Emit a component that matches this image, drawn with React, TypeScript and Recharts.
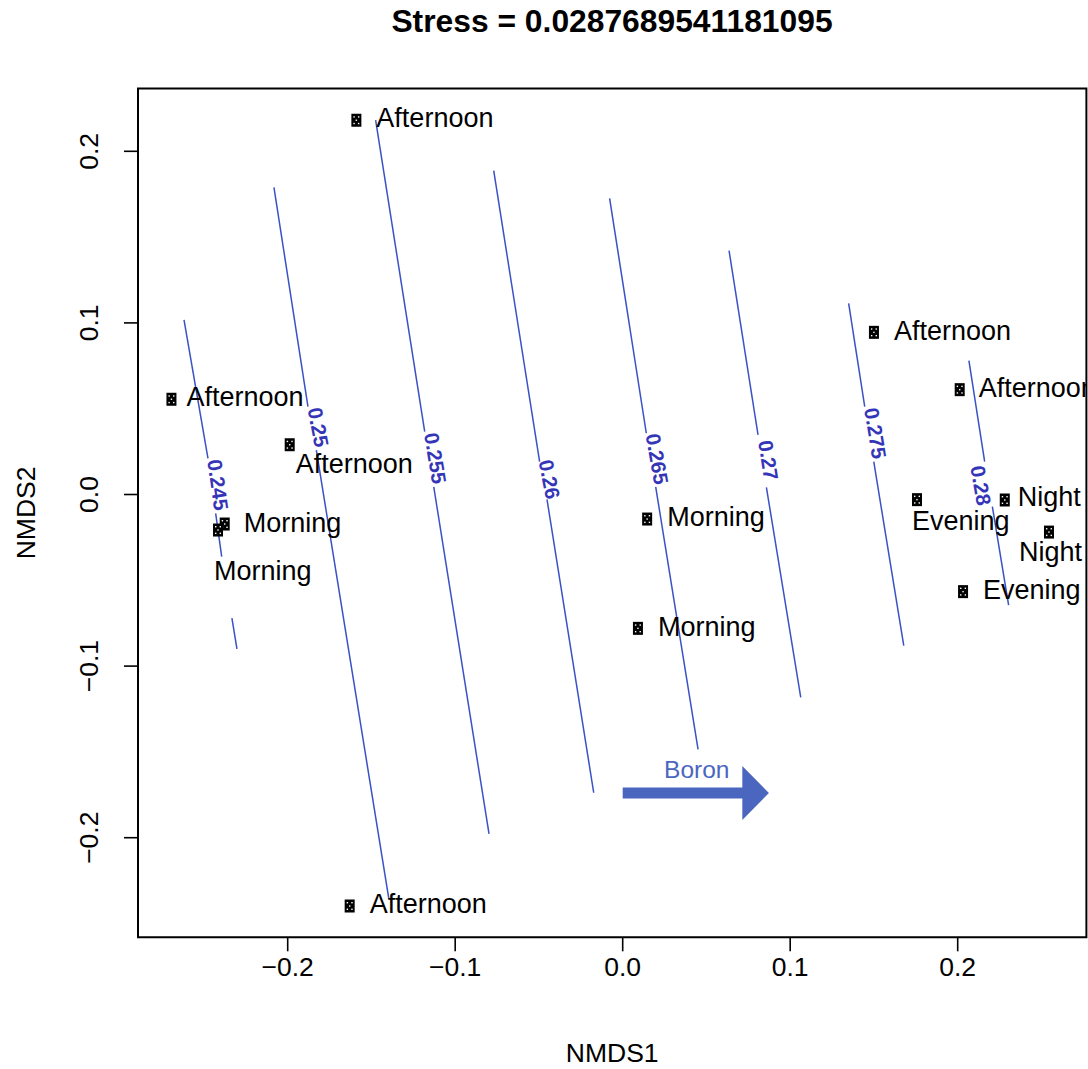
import React from "react";
import {
  ScatterChart,
  Scatter,
  XAxis,
  YAxis,
  ReferenceLine,
  ReferenceArea,
} from "recharts";

const FONT = '"Liberation Sans", Arial, Helvetica, sans-serif';

// axis ranges (R pads the data range by 4%)
const X_DOMAIN = [-0.28937, 0.27684];
const Y_DOMAIN = [-0.25804, 0.2366];
const X_TICKS = [-0.2, -0.1, 0, 0.1, 0.2];
const Y_TICKS = [-0.2, -0.1, 0, 0.1, 0.2];

// site scores
const SITE_LABELS = [
  "Afternoon", "Afternoon", "Afternoon", "Morning", "Morning", "Morning", "Morning",
  "Afternoon", "Afternoon", "Afternoon", "Evening", "Night", "Night", "Evening",
];
const NMDS1 = [
  -0.159, -0.2694, -0.1988, -0.2376, -0.2416, 0.0146, 0.0091,
  -0.163, 0.15, 0.2012, 0.1757, 0.2281, 0.2545, 0.2032,
];
const NMDS2 = [
  0.2181, 0.0555, 0.029, -0.0172, -0.0207, -0.0143, -0.078,
  -0.2398, 0.0945, 0.0611, -0.003, -0.0032, -0.0219, -0.0566,
];

// ordisurf contour levels and their traces; the label sits in the gap
// between the first and the second piece
const CONTOUR_LEVELS = ["0.245", "0.25", "0.255", "0.26", "0.265", "0.27", "0.275", "0.28"];
const CONTOUR_PIECES: [number, number][][][] = [
  [
    [[-0.2619, 0.1017], [-0.2476, 0.0211]],
    [[-0.243, -0.011], [-0.2394, -0.0362]],
    [[-0.2333, -0.0721], [-0.2303, -0.09]],
  ],
  [
    [[-0.2082, 0.179], [-0.1879, 0.0512]],
    [[-0.1829, 0.0259], [-0.1397, -0.2351]],
  ],
  [
    [[-0.1475, 0.2182], [-0.1182, 0.0366]],
    [[-0.1128, 0.0045], [-0.0798, -0.1978]],
  ],
  [
    [[-0.077, 0.1887], [-0.0496, 0.0191]],
    [[-0.0452, -0.0028], [-0.0173, -0.1738]],
  ],
  [
    [[-0.0078, 0.1726], [0.0141, 0.0357]],
    [[0.0197, 0.0045], [0.045, -0.1485]],
  ],
  [
    [[0.0635, 0.1421], [0.0808, 0.0347]],
    [[0.0858, 0.0042], [0.1063, -0.1182]],
  ],
  [
    [[0.1349, 0.1114], [0.1445, 0.0512]],
    [[0.1499, 0.0191], [0.1678, -0.0881]],
  ],
  [
    [[0.2067, 0.078], [0.2161, 0.0191]],
    [[0.2207, -0.0071], [0.2304, -0.0644]],
  ],
];

// envfit vector for Boron
const BORON_FROM = [0, -0.174];
const BORON_TO = [0.0873, -0.174];

// where each site's text goes, px from the point (start x, cap-centre y)
const LABEL_OFFSETS = [
  [20, -2.5], [15, -2.5], [6, 18.3], [19, -2], [-4, 40], [20, -2.5], [20, -2.5],
  [20, -2.5], [20, -2.5], [19, -2.5], [-5, 20.3], [13, -4], [-30, 19.7], [20, -2],
];
// baseline shift of the contour labels across the line, px
const LEVEL_BASELINE = [1, 1, 1, 1, 1, 1, 1, 15];

const LINE_BLUE = "#3a52c4";
const LABEL_BLUE = "#3535b8";
const ARROW_BLUE = "#4b66bf";

const fmt = (v: number) =>
  v === 0 ? "0.0" : (v < 0 ? "\u2212" : "") + Math.abs(v).toFixed(1);

const sites = NMDS1.map((x, i) => ({ x, y: NMDS2[i], site: SITE_LABELS[i], idx: i }));

function SiteMark(props: any) {
  const { cx, cy, payload } = props;
  const [dx, dy] = LABEL_OFFSETS[payload.idx];
  return (
    <g>
      <rect x={cx - 5} y={cy - 6.5} width={10} height={13} fill="#000" />
      <rect x={cx - 3} y={cy - 4} width={1.4} height={1.4} fill="#fff" />
      <rect x={cx + 1.6} y={cy - 4} width={1.4} height={1.4} fill="#fff" />
      <rect x={cx - 0.7} y={cy - 0.7} width={1.4} height={1.4} fill="#fff" />
      <rect x={cx - 3} y={cy + 2.6} width={1.4} height={1.4} fill="#fff" />
      <rect x={cx + 1.6} y={cy + 2.6} width={1.4} height={1.4} fill="#fff" />
      <text x={cx + dx} y={cy + dy + 9.7} fontSize={27} fontFamily={FONT} fill="#000">
        {payload.site}
      </text>
    </g>
  );
}

function ContourLabel(props: any) {
  const { x1, y1, x2, y2, text, shift } = props;
  const mx = (x1 + x2) / 2;
  const my = (y1 + y2) / 2;
  const ang = (Math.atan2(y2 - y1, x2 - x1) * 180) / Math.PI;
  return (
    <text
      x={mx}
      y={my + shift}
      transform={`rotate(${ang} ${mx} ${my})`}
      textAnchor="middle"
      fontSize={20.5}
      fontWeight="bold"
      fontFamily={FONT}
      fill={LABEL_BLUE}
    >
      {text}
    </text>
  );
}

function BoronArrow(props: any) {
  const { x1, y1, x2 } = props;
  const head = 26.6;
  const half = 27;
  const shaft = 5.5;
  const pts = [
    [x1, y1 - shaft],
    [x2 - head, y1 - shaft],
    [x2 - head, y1 - half],
    [x2, y1],
    [x2 - head, y1 + half],
    [x2 - head, y1 + shaft],
    [x1, y1 + shaft],
  ]
    .map((p) => p.join(","))
    .join(" ");
  return (
    <g>
      <polygon points={pts} fill={ARROW_BLUE} />
      <text
        x={(x1 + x2) / 2 + 1}
        y={y1 - 14.7}
        textAnchor="middle"
        fontSize={24.5}
        fontFamily={FONT}
        fill={ARROW_BLUE}
      >
        Boron
      </text>
    </g>
  );
}

function XTick(props: any) {
  const { x, y, payload } = props;
  return (
    <text x={x} y={y + 24.2} textAnchor="middle" fontSize={26.5} fontFamily={FONT} fill="#000">
      {fmt(payload.value)}
    </text>
  );
}

function YTick(props: any) {
  const { x, y, payload } = props;
  const bx = x - 25.8;
  return (
    <text
      x={bx}
      y={y}
      transform={`rotate(-90 ${bx} ${y})`}
      textAnchor="middle"
      fontSize={26.5}
      fontFamily={FONT}
      fill="#000"
    >
      {fmt(payload.value)}
    </text>
  );
}

function XTitle(props: any) {
  const vb = props.viewBox || { x: 138, y: 937.3, width: 948.4 };
  return (
    <text x={vb.x + vb.width / 2} y={vb.y + 124.2} textAnchor="middle" fontSize={26.5} fontFamily={FONT} fill="#000">
      NMDS1
    </text>
  );
}

function YTitle(props: any) {
  const vb = props.viewBox || { y: 88.5, height: 848.8 };
  const cy = vb.y + vb.height / 2;
  return (
    <text
      x={35}
      y={cy}
      transform={`rotate(-90 35 ${cy})`}
      textAnchor="middle"
      fontSize={26.5}
      fontFamily={FONT}
      fill="#000"
    >
      NMDS2
    </text>
  );
}

export default function App() {
  return (
    <div
      style={{
        position: "absolute",
        left: 0,
        top: 0,
        width: 1088,
        height: 1069,
        background: "#fff",
        fontFamily: FONT,
      }}
    >
      <div
        style={{
          position: "absolute",
          left: 138,
          width: 948,
          top: 5.8,
          textAlign: "center",
          fontSize: 31.8,
          lineHeight: 1,
          fontWeight: "bold",
          color: "#000",
          whiteSpace: "nowrap",
        }}
      >
        Stress = 0.0287689541181095
      </div>
      <ScatterChart
        width={1088}
        height={1069}
        margin={{ top: 88.5, right: 1.6, bottom: 31.7, left: 38 }}
      >
        <XAxis
          type="number"
          dataKey="x"
          domain={X_DOMAIN}
          ticks={X_TICKS}
          interval={0}
          allowDataOverflow
          height={100}
          axisLine={false}
          tickLine={{ stroke: "#000", strokeWidth: 1.6 }}
          tickSize={14}
          tickMargin={0}
          tick={(p: any) => <XTick {...p} />}
          label={<XTitle />}
        />
        <YAxis
          type="number"
          dataKey="y"
          domain={Y_DOMAIN}
          ticks={Y_TICKS}
          interval={0}
          allowDataOverflow
          width={100}
          axisLine={false}
          tickLine={{ stroke: "#000", strokeWidth: 1.6 }}
          tickSize={14}
          tickMargin={0}
          tick={(p: any) => <YTick {...p} />}
          label={<YTitle />}
        />
        <ReferenceArea
          x1={X_DOMAIN[0]}
          x2={X_DOMAIN[1]}
          y1={Y_DOMAIN[0]}
          y2={Y_DOMAIN[1]}
          fill="none"
          fillOpacity={0}
          stroke="#000"
          strokeWidth={2}
          ifOverflow="visible"
        />
        {CONTOUR_PIECES.flatMap((pieces, ci) =>
          pieces.flatMap((piece, pi) =>
            piece.slice(1).map((pt, k) => (
              <ReferenceLine
                key={`c${ci}-${pi}-${k}`}
                segment={[
                  { x: piece[k][0], y: piece[k][1] },
                  { x: pt[0], y: pt[1] },
                ]}
                stroke={LINE_BLUE}
                strokeWidth={1.5}
              />
            ))
          )
        )}
        {CONTOUR_PIECES.map((pieces, ci) => {
          const a = pieces[0][pieces[0].length - 1];
          const b = pieces[1][0];
          return (
            <ReferenceLine
              key={`lab${ci}`}
              segment={[
                { x: a[0], y: a[1] },
                { x: b[0], y: b[1] },
              ]}
              shape={(p: any) => (
                <ContourLabel {...p} text={CONTOUR_LEVELS[ci]} shift={LEVEL_BASELINE[ci]} />
              )}
            />
          );
        })}
        <ReferenceLine
          segment={[
            { x: BORON_FROM[0], y: BORON_FROM[1] },
            { x: BORON_TO[0], y: BORON_TO[1] },
          ]}
          shape={(p: any) => <BoronArrow {...p} />}
        />
        <Scatter data={sites} shape={SiteMark} isAnimationActive={false} />
      </ScatterChart>
    </div>
  );
}
